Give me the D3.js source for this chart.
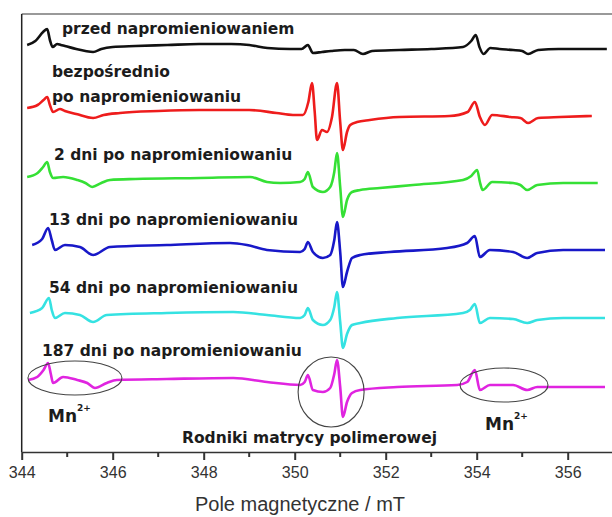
<!DOCTYPE html>
<html>
<head>
<meta charset="utf-8">
<script src="https://cdn.jsdelivr.net/npm/d3@7"></script>
<style>
    body { margin: 0; background: #fff; }
    .spec-label { font-family: "DejaVu Sans", Verdana, sans-serif; font-weight: bold; font-size: 15.5px; fill: #1c1c1c; }
    .mn-label { font-family: "DejaVu Sans", Verdana, sans-serif; font-weight: bold; font-size: 17px; fill: #1c1c1c; }
    .x-axis text { font-family: "Liberation Sans", Arial, sans-serif; font-size: 16px; fill: #333; }
    .axis-title { font-family: "Liberation Sans", Arial, sans-serif; font-size: 20px; fill: #333; }
</style>
</head>
<body>
<div id="chart"></div>
<script>

// ---- data (field in mT, EPR signal in arbitrary units, spectra already stacked) ----
const majorTicks = [344, 346, 348, 350, 352, 354, 356];
const minorTicks = [345, 347, 349, 351, 353, 355];

const seriesNames = [
    "przed napromieniowaniem",
    "bezpośrednio po napromieniowaniu",
    "2 dni po napromieniowaniu",
    "13 dni po napromieniowaniu",
    "54 dni po napromieniowaniu",
    "187 dni po napromieniowaniu"
];

const przed = [
    [344.12, 407], [344.30, 411], [344.47, 420], [344.56, 423], [344.62, 412], [344.68, 405],
    [344.78, 408], [344.86, 407], [344.95, 406], [345.20, 403], [345.40, 401], [345.57, 400],
    [345.75, 403], [346.00, 405], [346.50, 406], [347.20, 407], [347.90, 408], [348.60, 408],
    [349.00, 407], [349.40, 404], [349.90, 403], [350.15, 403], [350.29, 407], [350.40, 399],
    [350.60, 400], [350.80, 401], [351.10, 402], [351.30, 402], [351.50, 398], [351.70, 401],
    [352.30, 402], [353.00, 403], [353.70, 405], [353.88, 411], [353.98, 417], [354.06, 405],
    [354.15, 398], [354.30, 404], [354.50, 403], [354.80, 402], [355.00, 401], [355.13, 398],
    [355.35, 402], [355.80, 403], [356.30, 403], [356.86, 403]
];

const bezposrednio = [
    [344.12, 344], [344.35, 347], [344.48, 352], [344.56, 355], [344.62, 347], [344.69, 340],
    [344.84, 343], [344.95, 341], [345.20, 338], [345.57, 334], [345.80, 337], [346.16, 339],
    [347.00, 341], [347.90, 342], [349.00, 342], [349.60, 339], [349.96, 337], [350.18, 337],
    [350.30, 350], [350.38, 369], [350.44, 340], [350.49, 312], [350.60, 322], [350.71, 320],
    [350.82, 335], [350.93, 369], [351.00, 330], [351.06, 302], [351.15, 320], [351.22, 327],
    [351.37, 330], [351.65, 332], [352.30, 335], [353.40, 336], [353.80, 340], [353.96, 350],
    [354.07, 335], [354.18, 327], [354.34, 337], [354.74, 335], [354.96, 334], [355.13, 329],
    [355.35, 334], [355.83, 335], [356.53, 336]
];

const dni2 = [
    [344.12, 275], [344.35, 279], [344.47, 285], [344.56, 290], [344.62, 280], [344.69, 274],
    [344.91, 275], [345.22, 272], [345.40, 269], [345.55, 265], [345.75, 269], [345.94, 272],
    [346.50, 273], [347.92, 274], [349.02, 275], [349.39, 270], [349.68, 269], [350.12, 270],
    [350.22, 273], [350.29, 280], [350.40, 265], [350.62, 260], [350.78, 265], [350.87, 280],
    [350.93, 299], [351.00, 265], [351.06, 235], [351.15, 252], [351.26, 260], [351.44, 262],
    [351.87, 264], [352.60, 267], [353.70, 272], [353.88, 276], [354.01, 282], [354.07, 270],
    [354.13, 262], [354.34, 270], [354.80, 269], [354.96, 267], [355.11, 262], [355.33, 267],
    [355.90, 269], [356.66, 269]
];

const dni13 = [
    [344.23, 207], [344.45, 213], [344.58, 224], [344.66, 212], [344.73, 202], [344.95, 207],
    [345.28, 205], [345.57, 197], [345.94, 205], [347.19, 207], [348.58, 209], [348.95, 207],
    [349.39, 202], [350.12, 200], [350.22, 203], [350.29, 210], [350.40, 200], [350.62, 194],
    [350.78, 197], [350.87, 212], [350.93, 230], [351.00, 200], [351.06, 165], [351.15, 180],
    [351.26, 194], [351.44, 197], [352.09, 200], [353.35, 204], [353.79, 209], [353.96, 216],
    [354.07, 195], [354.29, 202], [354.80, 200], [355.11, 194], [355.33, 199], [355.90, 202],
    [356.82, 202]
];

const dni54 = [
    [344.18, 139], [344.45, 144], [344.60, 154], [344.66, 142], [344.73, 134], [344.95, 139],
    [345.28, 137], [345.57, 130], [345.87, 137], [347.19, 139], [348.65, 140], [349.39, 137],
    [350.12, 134], [350.22, 137], [350.29, 144], [350.40, 132], [350.62, 127], [350.78, 132],
    [350.87, 145], [350.93, 160], [351.00, 130], [351.06, 104], [351.15, 118], [351.26, 127],
    [351.44, 129], [352.25, 134], [353.70, 139], [353.85, 142], [353.96, 148], [354.07, 129],
    [354.29, 134], [354.80, 133], [355.11, 129], [355.33, 132], [355.90, 134], [356.82, 134]
];

const dni187 = [
    [344.14, 72], [344.34, 75], [344.48, 82], [344.58, 89], [344.64, 78], [344.69, 69],
    [344.91, 75], [345.22, 72], [345.44, 69], [345.61, 64], [345.87, 69], [346.09, 72],
    [347.19, 73], [348.65, 74], [349.39, 70], [350.12, 67], [350.22, 70], [350.29, 77],
    [350.40, 62], [350.62, 60], [350.78, 64], [350.87, 78], [350.93, 92], [351.00, 65],
    [351.06, 35], [351.15, 50], [351.26, 59], [351.44, 62], [352.25, 65], [353.57, 67],
    [353.79, 70], [353.96, 82], [354.07, 62], [354.29, 67], [354.80, 67], [355.11, 62],
    [355.33, 65], [355.90, 65], [356.82, 65]
];

const spectra = [przed, bezposrednio, dni2, dni13, dni54, dni187];


// ---- drawing ----
const colors = ["#111111", "#ee1c1c", "#35e035", "#1818c8", "#35e2e2", "#e024e0"];

const width = 612, height = 517;
const margin = {top: 14, left: 21.7, bottom: 65};

const svg = d3.select("#chart").append("svg")
    .attr("width", width)
    .attr("height", height);

const x = d3.scaleLinear()
    .domain([344, 357])
    .range([margin.left, margin.left + 13 * 45.5]);

const y = d3.scaleLinear()
    .domain([0, 440])
    .range([height - margin.bottom, height - margin.bottom - 440]);

const plotBottom = height - margin.bottom;

// frame: top border and left axis line
svg.append("line")
    .attr("x1", margin.left).attr("x2", width)
    .attr("y1", margin.top).attr("y2", margin.top)
    .attr("stroke", "#777").attr("stroke-width", 1.5);

svg.append("line")
    .attr("x1", margin.left).attr("x2", margin.left)
    .attr("y1", margin.top).attr("y2", plotBottom)
    .attr("stroke", "#222").attr("stroke-width", 1.5);

// spectra
const line = d3.line()
    .x(d => x(d[0]))
    .y(d => y(d[1]))
    .curve(d3.curveMonotoneX);

svg.selectAll("path.spectrum")
    .data(spectra)
    .enter().append("path")
    .attr("class", "spectrum")
    .attr("fill", "none")
    .attr("stroke", (d, i) => colors[i])
    .attr("stroke-width", 2.6)
    .attr("stroke-linejoin", "round")
    .attr("d", line);

// spectrum labels
const labelPos = [[62, 34], [52, 77], [54, 160], [49, 225], [49, 293], [42, 356]];
seriesNames.forEach((name, i) => {
    if (i === 1) {
        const t = svg.append("text").attr("class", "spec-label");
        t.append("tspan").attr("x", 52).attr("y", 77).text("bezpośrednio");
        t.append("tspan").attr("x", 52).attr("y", 102).text("po napromieniowaniu");
    } else {
        svg.append("text")
            .attr("class", "spec-label")
            .attr("x", labelPos[i][0])
            .attr("y", labelPos[i][1])
            .text(name);
    }
});

// annotations: Mn2+ lines and polymer radicals
const ellipses = [
    {cx: x(345.17), cy: y(74), rx: 47, ry: 17},
    {cx: x(350.8), cy: y(60), rx: 33, ry: 35},
    {cx: x(354.6), cy: y(67), rx: 44, ry: 17}
];
svg.selectAll("ellipse.note")
    .data(ellipses)
    .enter().append("ellipse")
    .attr("class", "note")
    .attr("cx", d => d.cx).attr("cy", d => d.cy)
    .attr("rx", d => d.rx).attr("ry", d => d.ry)
    .attr("fill", "none")
    .attr("stroke", "#444")
    .attr("stroke-width", 1.1);

function mnLabel(px, py) {
    const t = svg.append("text").attr("class", "mn-label").attr("x", px).attr("y", py);
    t.append("tspan").text("Mn");
    t.append("tspan").attr("dy", -11).attr("font-size", "9px").text("2+");
}
mnLabel(48, 422);
mnLabel(485, 430);

svg.append("text")
    .attr("class", "spec-label")
    .attr("font-size", "16px")
    .attr("x", 182)
    .attr("y", 443)
    .text("Rodniki matrycy polimerowej");

// x axis
const xAxis = d3.axisBottom(x)
    .tickValues(majorTicks)
    .tickFormat(d3.format("d"))
    .tickSize(8)
    .tickSizeOuter(0)
    .tickPadding(7);

const gx = svg.append("g")
    .attr("class", "x-axis")
    .attr("transform", "translate(0," + plotBottom + ")")
    .call(xAxis);

gx.select(".domain").attr("stroke", "#333").attr("stroke-width", 1.5);
gx.selectAll(".tick line").attr("stroke", "#333").attr("stroke-width", 2);

gx.selectAll("line.minor")
    .data(minorTicks)
    .enter().append("line")
    .attr("class", "minor")
    .attr("x1", d => x(d)).attr("x2", d => x(d))
    .attr("y1", 0).attr("y2", 5)
    .attr("stroke", "#333").attr("stroke-width", 2);

svg.append("text")
    .attr("class", "axis-title")
    .attr("x", 300)
    .attr("y", 511)
    .attr("text-anchor", "middle")
    .text("Pole magnetyczne / mT");

</script>
</body>
</html>
